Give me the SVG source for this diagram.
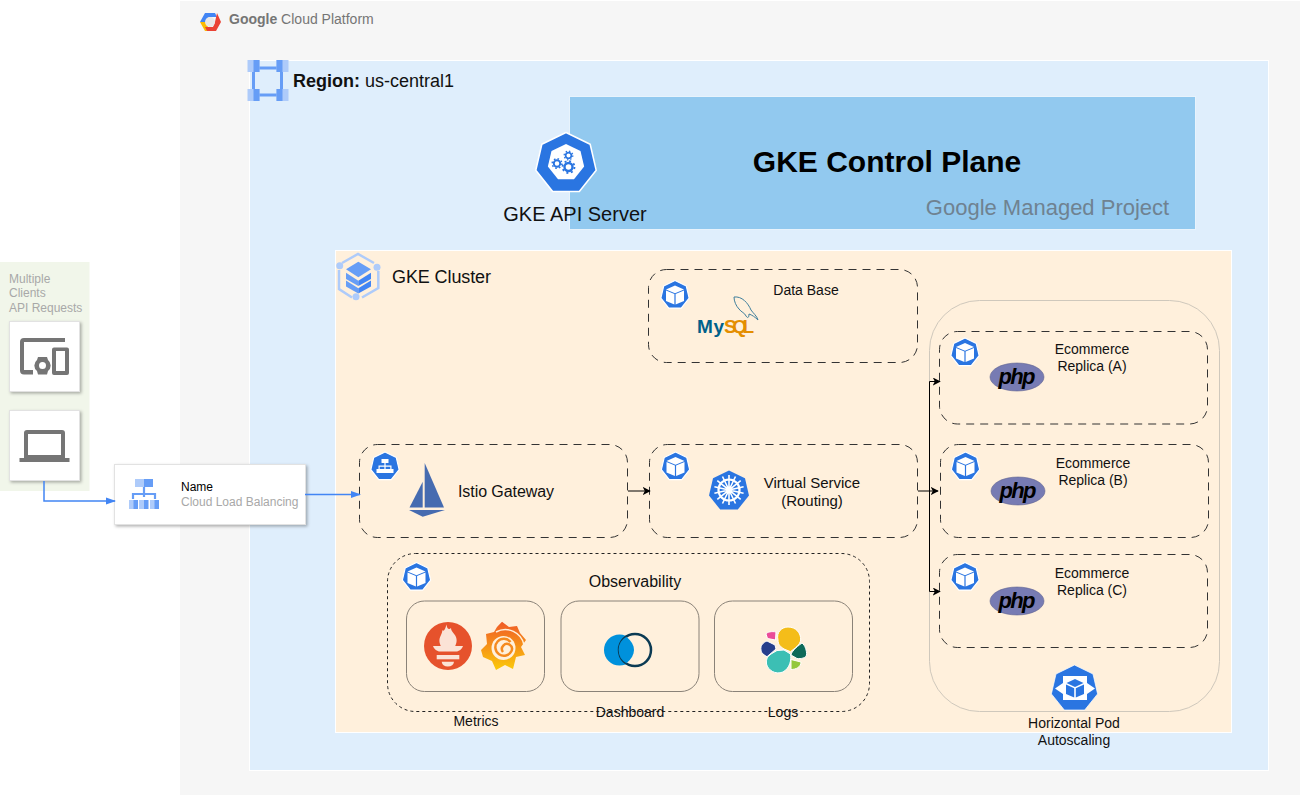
<svg xmlns="http://www.w3.org/2000/svg" width="1300" height="795" viewBox="0 0 1300 795">
<style>
text{font-family:"Liberation Sans",Arial,sans-serif;fill:#111}
.c{text-anchor:middle}
.s14{font-size:14px}.s15{font-size:15px}.s16{font-size:16px}
.grey{fill:#a8a8a8;font-size:12px}
.dash{fill:none;stroke:#333;stroke-dasharray:8 6;stroke-width:1}
.dots{fill:none;stroke:#222;stroke-dasharray:3 3;stroke-width:1}
.inner{fill:none;stroke:#8a8278;stroke-width:1}
.card{fill:#fff;stroke:#e2e2e2;stroke-width:1;filter:url(#sh)}
.k{fill:#2a75e1}
.w{fill:#fff}
.conn{fill:none;stroke:#000;stroke-width:1}
.blue{fill:none;stroke:#4285f4;stroke-width:1.5}
.ic{fill:#757575}
.php{font-family:"Liberation Sans",Arial,sans-serif;font-weight:700;font-style:italic;font-size:22px;fill:#000;text-anchor:middle}
</style>
<defs>
<filter id="sh" x="-10%" y="-10%" width="125%" height="125%"><feDropShadow dx="1.5" dy="1.5" stdDeviation="1.5" flood-color="#000" flood-opacity=".3"/></filter>
<linearGradient id="gf" x1="0" y1="0" x2="0" y2="1"><stop offset="0" stop-color="#f05a28"/><stop offset="1" stop-color="#fbca0a"/></linearGradient>
<marker id="a" viewBox="0 0 10 10" refX="9" refY="5" markerWidth="8" markerHeight="8" orient="auto" markerUnits="userSpaceOnUse"><path d="M0 0L10 5L0 10L2.5 5Z" fill="#000"/></marker>
<marker id="b" viewBox="0 0 10 10" refX="9" refY="5" markerWidth="10" markerHeight="10" orient="auto" markerUnits="userSpaceOnUse"><path d="M0 1.5L10 5L0 8.5Z" fill="#4285f4"/></marker>
<polygon id="hept" points="0,-100 78,-62 97.5,22 43,90 -43,90 -97.5,22 -78,-62" stroke-linejoin="round"/>
<g id="pod">
<use href="#hept" class="k" transform="scale(.145)" stroke="#fff" stroke-width="8"/>
<path class="w" d="M0-9.500L9-5.500L0-1.800L-9-5.500ZM-9-4.500L-.6-.9V9.500L-9 6ZM9-4.500L.6-.9V9.500L9 6Z"/>
</g>
<g id="phpl">
<ellipse rx="27" ry="14" fill="#777bb3" stroke="#5f6390" stroke-width=".6"/>
<text class="php" y="7" textLength="37">php</text>
</g>
<g id="gear"><circle r="4" fill="none" stroke="#2a75e1" stroke-width="2.400"/><circle r="6" fill="none" stroke="#2a75e1" stroke-width="1.800" stroke-dasharray="2 2.700"/></g>
</defs>

<rect x="180" y="1" width="1120" height="794" fill="#f6f6f6"/>

<g id="gcp">
<path d="M200 22L205 13L215 13L217 17L209 17L206 22Z" fill="#4285f4"/>
<path d="M200 22L205 31L210 31L208 27L206 22Z" fill="#fbbc05"/>
<path d="M217 13L221 22L216 31L207 31L205 27L213 27L215 22Z" fill="#ea4335"/>
<circle cx="210" cy="22" r="5" fill="#e8e8e8"/>
<text x="229" y="24" font-size="14" style="fill:#757575"><tspan font-weight="700">Google</tspan> Cloud Platform</text>
</g>

<g id="region">
<rect x="249.500" y="60.500" width="1019" height="710" fill="#dfeefc" stroke="#fff"/>
<path d="M253.500 66V95M281.500 66V95M253.500 68H281.500M253.500 95H281.500" fill="none" stroke="#669df6" stroke-width="3"/>
<rect x="247.500" y="60" width="12" height="12" fill="#aecbfa"/><rect x="253.500" y="60" width="6" height="12" fill="#669df6"/>
<rect x="276.500" y="60" width="12" height="12" fill="#aecbfa"/><rect x="276.500" y="60" width="6" height="12" fill="#669df6"/>
<rect x="247.500" y="89" width="12" height="12" fill="#aecbfa"/><rect x="253.500" y="89" width="6" height="12" fill="#669df6"/>
<rect x="276.500" y="89" width="12" height="12" fill="#aecbfa"/><rect x="276.500" y="89" width="6" height="12" fill="#669df6"/>
<text x="293" y="87" font-size="18"><tspan font-weight="700">Region:</tspan> us-central1</text>
</g>

<g id="control-plane">
<rect x="569.500" y="96.500" width="626" height="133" fill="#92c9ef" stroke="#e8f3fc"/>
<text x="887" y="172" class="c" font-size="30" font-weight="700" style="fill:#000">GKE Control Plane</text>
<text x="1047.500" y="215" class="c" font-size="22" style="fill:#6f8291">Google Managed Project</text>
</g>

<g id="api-server">
<use href="#hept" class="k" transform="translate(566 163.500) scale(.31)" stroke="#fff" stroke-width="5"/>
<use href="#hept" class="w" transform="translate(566 162.500) scale(.186)"/>
<use href="#gear" transform="translate(568.500 167)"/>
<use href="#gear" transform="translate(557 163.500) scale(.8)"/>
<use href="#gear" transform="translate(568.500 155.500) scale(.72)"/>
<text x="575" y="221" class="c" font-size="20">GKE API Server</text>
</g>

<g id="cluster">
<rect x="335.500" y="250.500" width="896" height="482" fill="#fff0dc" stroke="#fff"/>
<path d="M342 263L358 254L374 263M378.300 271V288L362 297.500M352 297.500L339 289V270" fill="none" stroke="#aecbfa" stroke-width="2.500"/>
<circle cx="339.700" cy="265.700" r="3.500" fill="#aecbfa"/><circle cx="377" cy="267.300" r="3.500" fill="#aecbfa"/><circle cx="356" cy="296.700" r="3.500" fill="#aecbfa"/>
<path d="M358.300 261.700L371 269.300L358.300 277.300L346 269.300Z" fill="#669df6"/>
<path d="M346 272.700L358.300 280.700V286L346 279Z" fill="#669df6"/><path d="M371 272.700L358.300 280.700V286L371 279Z" fill="#4285f4"/>
<path d="M346 280.500L358.300 288.300V293.500L346 286.500Z" fill="#669df6"/><path d="M371 280.500L358.300 288.300V293.500L371 286.500Z" fill="#4285f4"/>
<text x="392" y="283" font-size="18" textLength="99">GKE Cluster</text>
</g>

<g id="clients">
<rect x="0" y="262" width="89.500" height="229" fill="#f1f6ea"/>
<text class="grey" x="9" y="283">Multiple</text>
<text class="grey" x="9" y="297">Clients</text>
<text class="grey" x="9" y="312">API Requests</text>
<rect class="card" x="9.500" y="321.500" width="70" height="70"/>
<path class="ic" d="M20 342a4 4 0 0 1 4-4H65V342H24V370H33V374.500H24a4 4 0 0 1-4-4Z"/>
<path class="ic" d="M52 349.500a2 2 0 0 1 2-2H67a2 2 0 0 1 2 2V373a2 2 0 0 1-2 2H54a2 2 0 0 1-2-2ZM56 351V371H65V351Z" fill-rule="evenodd"/>
<path class="ic" d="M38 357H47L48 360A7 7 0 0 1 48 371L47 374.500H38L37 371A7 7 0 0 1 37 360ZM42.500 362A3.500 3.500 0 1 0 42.500 369A3.500 3.500 0 1 0 42.500 362Z" fill-rule="evenodd"/>
<rect class="card" x="9.500" y="410.500" width="70" height="70"/>
<path class="ic" d="M24 433a3 3 0 0 1 3-3H62a3 3 0 0 1 3 3V458H24ZM28 434V455H61V434Z" fill-rule="evenodd"/>
<rect class="ic" x="19.500" y="458" width="50" height="4"/>
</g>

<g id="load-balancer">
<rect class="card" x="114.500" y="464.500" width="191" height="60"/>
<rect x="135" y="479" width="9" height="8" fill="#aecbfa"/><rect x="144" y="479" width="9" height="8" fill="#669df6"/>
<path d="M144 487V497M133 499V494H155V499" fill="none" stroke="#669df6" stroke-width="2.200"/>
<rect x="129" y="500" width="9" height="9" fill="#669df6"/><rect x="129" y="500" width="4.500" height="9" fill="#aecbfa"/>
<rect x="139.500" y="500" width="9" height="9" fill="#669df6"/><rect x="139.500" y="500" width="4.500" height="9" fill="#aecbfa"/>
<rect x="150" y="500" width="9" height="9" fill="#669df6"/><rect x="150" y="500" width="4.500" height="9" fill="#aecbfa"/>
<text x="181" y="491" font-size="12" style="fill:#000">Name</text>
<text class="grey" x="181" y="506">Cloud Load Balancing</text>
</g>

<g id="database">
<rect class="dash" x="648.500" y="269.500" width="269" height="93" rx="18"/>
<use href="#pod" transform="translate(675 295)"/>
<text x="806" y="295" class="c s14">Data Base</text>
<path d="M734 297C742 296 748 303 751 310C753 313 757 316 758 320C755 317 752 315 749 314C749 317 748 319 746 316C745 313 741 312 739 309C736 306 734 301 734 297Z" fill="none" stroke="#3f7f9c" stroke-width="1"/>
<text x="697" y="333" font-size="19" font-weight="700" style="fill:#00618a" textLength="27">My</text>
<text x="724" y="333" font-size="19" font-weight="700" style="fill:#e48e00" textLength="30">SQL</text>
</g>

<g id="istio-gateway">
<rect class="dash" x="359.500" y="444.500" width="268" height="93" rx="18"/>
<use href="#hept" class="k" transform="translate(385 466.500) scale(.145)" stroke="#fff" stroke-width="8"/>
<path class="w" d="M381.500 459H388.500V463H385.600V465.500H391.500V469H393.500V473H388V469H390.300V466.700H385.600V469H388V473H382V469H384.400V466.700H379.700V469H382V473H376.500V469H378.500V465.500H384.400V463H381.500Z"/>
<path d="M424.700 463L444 507.500H424.700Z" fill="#466bb0"/>
<path d="M422.700 481.700V507.500H409.500Z" fill="#466bb0"/>
<path d="M409 510H445L422.700 516.700Z" fill="#466bb0"/>
<text x="458" y="497" class="s16" textLength="96">Istio Gateway</text>
</g>

<g id="virtual-service">
<rect class="dash" x="649.500" y="444.500" width="268" height="93" rx="18"/>
<use href="#pod" transform="translate(675.500 466.500)"/>
<use href="#hept" class="k" transform="translate(729 491) scale(.205)"/>
<g fill="none" stroke="#fff">
<circle cx="729" cy="490" r="10.500" stroke-width="2.200"/>
<path stroke-width="1.600" d="M729 475V505M717.300 480.700L740.700 499.300M714.400 493.300L743.600 486.700M722.500 503.500L735.500 476.500M735.500 503.500L722.500 476.500M714.400 486.700L743.600 493.300M740.700 480.700L717.300 499.300" stroke-dasharray="none"/>
</g>
<circle cx="729" cy="490" r="2.500" fill="#fff"/>
<text x="812" y="488" class="c s15">Virtual Service</text>
<text x="812" y="506" class="c s15">(Routing)</text>
</g>

<g id="observability">
<rect class="dots" x="387.500" y="553.500" width="482" height="158" rx="28"/>
<use href="#pod" transform="translate(416.500 577)"/>
<text x="635" y="587" class="c s16">Observability</text>
<rect class="inner" x="406.500" y="601" width="138" height="90.500" rx="18"/>
<rect class="inner" x="561" y="601" width="138" height="90.500" rx="18"/>
<rect class="inner" x="714.500" y="601" width="138" height="90.500" rx="18"/>
<circle cx="448" cy="646" r="24" fill="#e6522c"/>
<path d="M446.500 624.500C447 629 449 630 451 628C451 632 456 634 456.500 639C457 642 456 644 455 646.500H441C440 644 439 642 439.500 639C440 636 442 634 442.500 630C443.500 632 445 630 446.500 624.500Z" fill="#fbe3d6"/>
<path d="M433 646H463C462 649 459 651.500 456 651.500H440C437 651.500 434 649 433 646Z" fill="#fbe3d6"/>
<rect x="436.700" y="655" width="22.600" height="4.300" fill="#fbe3d6"/>
<path d="M441.700 661.700H454A6.200 5.500 0 0 1 441.700 661.700Z" fill="#fbe3d6"/>
<path d="M502 621.700L509 627L517 626L520 633L526 640L521 647L525 655L516 657L513 669L505 665L496 670L492 661L483 657L481 650L487 644L486 634L494 632L497 627Z" fill="url(#gf)"/>
<circle cx="503.500" cy="648" r="12" fill="#fff0dc"/>
<path d="M510.500 642A8.500 8.500 0 1 0 511.500 651A5 5 0 1 0 503 652" fill="none" stroke="#f58a1f" stroke-width="2.500"/>
<path d="M496 632A19 19 0 0 1 524 645" fill="none" stroke="#fff0dc" stroke-width="1.500"/>
<circle cx="619.500" cy="650" r="15.500" fill="#0091dc"/>
<circle cx="635" cy="650" r="16" fill="#fff0dc" stroke="#0b3a53" stroke-width="2.500"/>
<path d="M626.500 636.800A15 15 0 0 0 626.500 663.200C636.500 655 636.500 645 626.500 636.800Z" fill="#0091dc"/>
<g stroke="#fff" stroke-width="1">
<path d="M778 640C776 632 782 627 788 627C796 627 801 633 800.700 640C800 645 795 648 790.500 651.700L784 649C781 647 778 645 778 640Z" fill="#f4bd19"/>
<path d="M784 650L790.500 654C791.500 660 790 668 783 672C775 675 768 670 766.500 664C766 658 768 656.500 771 654L777 650.500Z" fill="#3cbfb4"/>
<path d="M761 650C760 645 764 642 767 641L775 645L776 649L767 656.700C764 655 761 653 761 650Z" fill="#263e8c"/>
<path d="M766 634C767 632 772 631 776 632L775.500 640L767.500 638.500Z" fill="#ea4c98"/>
<path d="M802 643C805 645 807 651 806.500 655C806 658 801 659 797 658.500L791 655C791.500 652 795 648 802 643Z" fill="#0e6a59"/>
<path d="M791 659.500L801 662C801 667 796 669.500 791 669.500Z" fill="#94c83d"/>
</g>
<text x="476" y="726" class="c s14">Metrics</text>
<text x="630" y="717" class="c s14">Dashboard</text>
<text x="783" y="717" class="c s14">Logs</text>
</g>

<g id="autoscaling">
<rect x="929.500" y="300.500" width="290" height="411" rx="50" fill="none" stroke="#cfc8bc"/>
<use href="#hept" class="k" transform="translate(1074.500 688.700) scale(.237)" stroke="#fff" stroke-width="3"/>
<rect x="1063" y="676" width="24" height="24" fill="#fff"/>
<path class="w" d="M1063 683L1055 688.500L1063 694ZM1087 683L1095 688.500L1087 694Z"/>
<path class="k" d="M1075 679L1083.500 683L1075 687L1066.500 683ZM1066 684.500L1074.200 688.200V697.500L1066 694ZM1084 684.500L1075.800 688.200V697.500L1084 694Z"/>
<text x="1074" y="728" class="c s14">Horizontal Pod</text>
<text x="1074" y="745" class="c s14">Autoscaling</text>
</g>

<g id="replica-a">
<rect class="dash" x="939.500" y="331.500" width="268" height="92.500" rx="18"/>
<use href="#pod" transform="translate(965 352.500)"/>
<use href="#phpl" transform="translate(1017 377)"/>
<text x="1092" y="354" class="c s14">Ecommerce</text>
<text x="1092" y="371" class="c s14">Replica (A)</text>
</g>
<g id="replica-b">
<rect class="dash" x="940.500" y="444.500" width="268" height="93" rx="18"/>
<use href="#pod" transform="translate(965.500 466.500)"/>
<use href="#phpl" transform="translate(1018 491)"/>
<text x="1093" y="468" class="c s14">Ecommerce</text>
<text x="1093" y="485" class="c s14">Replica (B)</text>
</g>
<g id="replica-c">
<rect class="dash" x="939.500" y="554.500" width="268" height="93" rx="18"/>
<use href="#pod" transform="translate(965 577)"/>
<use href="#phpl" transform="translate(1017 601)"/>
<text x="1092" y="578" class="c s14">Ecommerce</text>
<text x="1092" y="595" class="c s14">Replica (C)</text>
</g>

<g id="connectors">
<path class="blue" marker-end="url(#b)" d="M44 481V501H115"/>
<path class="blue" marker-end="url(#b)" d="M305 494.500H360"/>
<path class="conn" marker-end="url(#a)" d="M628 491H650"/>
<path class="conn" stroke-width="1.500" marker-end="url(#a)" d="M918 491H938"/>
<path class="conn" marker-end="url(#a)" d="M929.500 491V381.500H940"/>
<path class="conn" marker-end="url(#a)" d="M929.500 491V591.500H940"/>
</g>
</svg>
